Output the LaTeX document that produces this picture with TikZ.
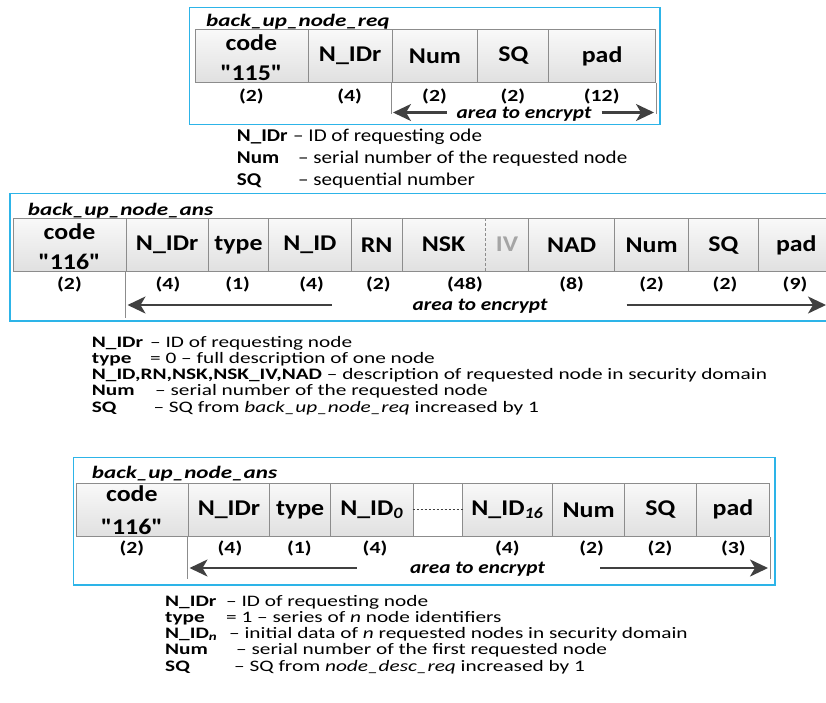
\documentclass[tikz,border=0pt]{standalone}
\usepackage{fontspec}
\usepackage{graphicx}
\newfontfamily\basefont{Carlito}
\usetikzlibrary{arrows.meta}

\definecolor{framecol}{RGB}{45,180,232}
\definecolor{edgecol}{RGB}{140,140,140}
\definecolor{arrcol}{RGB}{64,64,64}
\definecolor{ivcol}{RGB}{165,165,165}

% fonts
\newcommand\fieldfont{\basefont\fontsize{22.5}{25}\selectfont\bfseries}
\newcommand\sizefont{\basefont\fontsize{17}{19}\selectfont\bfseries}
\newcommand\titlefont{\basefont\fontsize{17.5}{19}\selectfont\bfseries\itshape}
\newcommand\encfont{\basefont\fontsize{18}{20}\selectfont\bfseries\itshape}
\newcommand\legAfont{\basefont\fontsize{18}{20}\selectfont}
\newcommand\legBfont{\basefont\fontsize{16}{18}\selectfont}
% horizontally widened lettering
\newcommand\FL[1]{\scalebox{1.15}[1]{#1}}
\newcommand\SZ[1]{\scalebox{1.28}[1]{#1}}
\newcommand\TT[1]{\scalebox{1.32}[1]{#1}}
\newcommand\EN[1]{\scalebox{1.18}[1]{#1}}
\newcommand\LA[1]{\scalebox{1.17}[1]{#1}}
\newcommand\LB[1]{\scalebox{1.33}[1]{#1}}

\tikzset{
  frame/.style={draw=framecol, line width=1.2pt},
  field/.style={draw=edgecol, line width=0.9pt, top color=gray!5, bottom color=gray!24,
    inner sep=0pt, anchor=north west, font=\fieldfont},
  gapfield/.style={field, top color=white, bottom color=white},
  fieldtext/.style={font=\fieldfont, inner sep=0pt},
  codetext/.style={font=\fieldfont, inner sep=0pt, anchor=base},
  size/.style={font=\sizefont, inner sep=0pt, anchor=base},
  title/.style={font=\titlefont, anchor=base west, inner sep=0pt},
  encarrow/.style={draw=arrcol, line width=2.2pt, -{Stealth[length=18pt,width=17pt,inset=5pt]}},
  guide/.style={draw=edgecol, line width=0.8pt},
  enclabel/.style={font=\encfont, inner sep=0pt, anchor=base},
  legA/.style={anchor=base west, inner sep=0pt, font=\legAfont},
  legB/.style={anchor=base west, inner sep=0pt, font=\legBfont},
}

% \fieldbox[style]{name}{x left}{x right}{y top}{y bottom}{label}
\newcommand\fieldbox[7][]{%
  \pgfmathsetmacro\fbw{#4-#3}\pgfmathsetmacro\fbh{#6-#5}%
  \node[field,#1,minimum width=\fbw pt,minimum height=\fbh pt] (#2) at (#3,#5) {#7};}

\begin{document}
\begin{tikzpicture}[x=1pt,y=-1pt]
\useasboundingbox (0,0) rectangle (826,702);
\clip (0,0) rectangle (826,702);

% ---------------- back_up_node_req ----------------
\draw[frame] (189.3,7.3) rectangle (660,124.3);
\node[title] (t1) at (206,26) {\TT{back\_up\_node\_req}};
\fieldbox{code1}{195}{307.7}{29.3}{81.7}{}
\node[codetext] (code1a) at (251.3,50) {\FL{code}};
\node[codetext] (code1b) at (251.3,80.5) {\FL{"115"}};
\fieldbox{nidr1}{307.7}{391.7}{29.3}{81.7}{\FL{N\_IDr}}
\fieldbox{num1}{391.7}{477.3}{29.3}{81.7}{\FL{Num}}
\fieldbox{sq1}{477.3}{548.3}{29.3}{81.7}{\FL{SQ}}
\fieldbox{pad1}{548.3}{655}{29.3}{81.7}{\FL{pad}}
\node[size] (s11) at (251.3,101) {\SZ{(2)}};
\node[size] (s12) at (349.7,101) {\SZ{(4)}};
\node[size] (s13) at (434.5,101) {\SZ{(2)}};
\node[size] (s14) at (512.8,101) {\SZ{(2)}};
\node[size] (s15) at (601.7,101) {\SZ{(12)}};
\draw[guide] (num1.south west) -- ++(0,31);
\draw[guide] (pad1.south east) -- ++(0,31);
\coordinate (a1l) at (446.7,112.5);
\coordinate (a1lt) at (393,112.5);
\coordinate (a1r) at (601.7,112.5);
\coordinate (a1rt) at (654,112.5);
\draw[encarrow] (a1l) -- (a1lt);
\draw[encarrow] (a1r) -- (a1rt);
\node[enclabel] (e1) at (524,118.3) {\EN{area to encrypt}};

\node[legA] (l11) at (236.7,141.7) {\LA{\textbf{N\_IDr}}};
\node[legA] (l11d) at (293,141.7) {\LA{– ID of requesting ode}};
\node[legA] (l12) at (236.7,163.3) {\LA{\textbf{Num}}};
\node[legA] (l12d) at (298,163.3) {\LA{– serial number of the requested node}};
\node[legA] (l13) at (236.7,185) {\LA{\textbf{SQ}}};
\node[legA] (l13d) at (298,185) {\LA{– sequential number}};

% ---------------- back_up_node_ans (type 0) ----------------
\draw[frame] (10,193.3) rectangle (845,321);
\node[title] (t2) at (27.7,215) {\TT{back\_up\_node\_ans}};
\fieldbox{code2}{13.3}{125.7}{218.3}{271}{}
\node[codetext] (code2a) at (69.5,239.3) {\FL{code}};
\node[codetext] (code2b) at (69.5,269.5) {\FL{"116"}};
\fieldbox{nidr2}{125.7}{207.7}{218.3}{271}{\FL{N\_IDr}}
\fieldbox{type2}{207.7}{268.3}{218.3}{271}{\FL{type}}
\fieldbox{nid2}{268.3}{350.7}{218.3}{271}{\FL{N\_ID}}
\fieldbox{rn2}{350.7}{401.5}{218.3}{271}{\FL{RN}}
\fieldbox{nskiv}{401.5}{528.3}{218.3}{271}{}
\fieldbox{nad2}{528.3}{614}{218.3}{271}{\FL{NAD}}
\fieldbox{num2}{614}{688.3}{218.3}{271}{\FL{Num}}
\fieldbox{sq2}{688.3}{757.7}{218.3}{271}{\FL{SQ}}
\fieldbox{pad2}{757.7}{834}{218.3}{271}{\FL{pad}}
\coordinate (divt) at (485.7,218.3);
\coordinate (divb) at (485.7,271);
\draw[draw=edgecol, line width=0.8pt, dash pattern=on 3pt off 2pt] (divt) -- (divb);
\node[fieldtext] (nsk) at (443.6,244.6) {\FL{NSK}};
\node[fieldtext, text=ivcol] (iv) at (507,244.6) {\FL{IV}};
\node[size] (s21) at (69.5,289) {\SZ{(2)}};
\node[size] (s22) at (168,289) {\SZ{(4)}};
\node[size] (s23) at (237.7,289) {\SZ{(1)}};
\node[size] (s24) at (311.7,289) {\SZ{(4)}};
\node[size] (s25) at (378.3,289) {\SZ{(2)}};
\node[size] (s26) at (465,289) {\SZ{(48)}};
\node[size] (s27) at (571.7,289) {\SZ{(8)}};
\node[size] (s28) at (651.7,289) {\SZ{(2)}};
\node[size] (s29) at (725,289) {\SZ{(2)}};
\node[size] (s210) at (795,289) {\SZ{(9)}};
\draw[guide] (nidr2.south west) -- ++(0,46);
\coordinate (a2l) at (331.7,305);
\coordinate (a2lt) at (127.5,305);
\coordinate (a2r) at (626.7,305);
\coordinate (a2rt) at (826,305);
\draw[encarrow] (a2l) -- (a2lt);
\draw[encarrow] (a2r) -- (a2rt);
\node[enclabel] (e2) at (480,310) {\EN{area to encrypt}};

\node[legB] (l21) at (91.7,347.3) {\LB{\textbf{N\_IDr}}};
\node[legB] (l21d) at (150,347.3) {\LB{– ID of requesting node}};
\node[legB] (l22) at (91.7,363) {\LB{\textbf{type}}};
\node[legB] (l22d) at (150,363) {\LB{= 0 – full description of one node}};
\node[legB] (l23) at (91.7,379) {\LB{\textbf{N\_ID,RN,NSK,NSK\_IV,NAD} – description of requested node in security domain}};
\node[legB] (l24) at (91.7,395.7) {\LB{\textbf{Num}}};
\node[legB] (l24d) at (155,395.7) {\LB{– serial number of the requested node}};
\node[legB] (l25) at (91.7,412.3) {\LB{\textbf{SQ}}};
\node[legB] (l25d) at (153.3,412.3) {\LB{– SQ from \textit{back\_up\_node\_req} increased by 1}};

% ---------------- back_up_node_ans (type 1) ----------------
\draw[frame] (73.3,457.3) rectangle (775,585);
\node[title] (t3) at (91.7,478) {\TT{back\_up\_node\_ans}};
\fieldbox{code3}{76}{187.7}{482.7}{536}{}
\node[codetext] (code3a) at (131.8,501.7) {\FL{code}};
\node[codetext] (code3b) at (131.8,534) {\FL{"116"}};
\fieldbox{nidr3}{187.7}{269.3}{482.7}{536}{\FL{N\_IDr}}
\fieldbox{type3}{269.3}{330}{482.7}{536}{\FL{type}}
\fieldbox{nid03}{330}{412.7}{482.7}{536}{\FL{N\_ID\textsubscript{\textit{0}}}}
\fieldbox[gapfield]{gap3}{412.7}{461.7}{482.7}{536}{}
\fieldbox{nid163}{461.7}{552.3}{482.7}{536}{\FL{N\_ID\textsubscript{\textit{16}}}}
\fieldbox{num3}{552.3}{624}{482.7}{536}{\FL{Num}}
\fieldbox{sq3}{624}{696}{482.7}{536}{\FL{SQ}}
\fieldbox{pad3}{696}{769}{482.7}{536}{\FL{pad}}
\draw[draw=arrcol, line width=0.8pt, dash pattern=on 2.5pt off 1.5pt] (gap3.west) -- (gap3.east);
\node[size] (s31) at (131.8,553) {\SZ{(2)}};
\node[size] (s32) at (230,553) {\SZ{(4)}};
\node[size] (s33) at (299.3,553) {\SZ{(1)}};
\node[size] (s34) at (375,553) {\SZ{(4)}};
\node[size] (s35) at (507.3,553) {\SZ{(4)}};
\node[size] (s36) at (591.7,553) {\SZ{(2)}};
\node[size] (s37) at (660,553) {\SZ{(2)}};
\node[size] (s38) at (733.3,553) {\SZ{(3)}};
\draw[guide] (nidr3.south west) -- ++(0,42);
\draw[guide] (pad3.south east) -- ++(0,42);
\coordinate (a3l) at (356.7,568);
\coordinate (a3lt) at (189.5,568);
\coordinate (a3r) at (600,568);
\coordinate (a3rt) at (768,568);
\draw[encarrow] (a3l) -- (a3lt);
\draw[encarrow] (a3r) -- (a3rt);
\node[enclabel] (e3) at (477.5,573.5) {\EN{area to encrypt}};

\node[legB] (l31) at (165,606) {\LB{\textbf{N\_IDr}}};
\node[legB] (l31d) at (226,606) {\LB{– ID of requesting node}};
\node[legB] (l32) at (165,622) {\LB{\textbf{type}}};
\node[legB] (l32d) at (226,622) {\LB{= 1 – series of \textit{n} node identifiers}};
\node[legB] (l33) at (165,638) {\LB{\textbf{N\_ID\textsubscript{\textit{n}}}}};
\node[legB] (l33d) at (229,638) {\LB{– initial data of \textit{n} requested nodes in security domain}};
\node[legB] (l34) at (165,654.5) {\LB{\textbf{Num}}};
\node[legB] (l34d) at (236,654.5) {\LB{– serial number of the first requested node}};
\node[legB] (l35) at (165,671) {\LB{\textbf{SQ}}};
\node[legB] (l35d) at (234,671) {\LB{– SQ from \textit{node\_desc\_req} increased by 1}};
\end{tikzpicture}
\end{document}
